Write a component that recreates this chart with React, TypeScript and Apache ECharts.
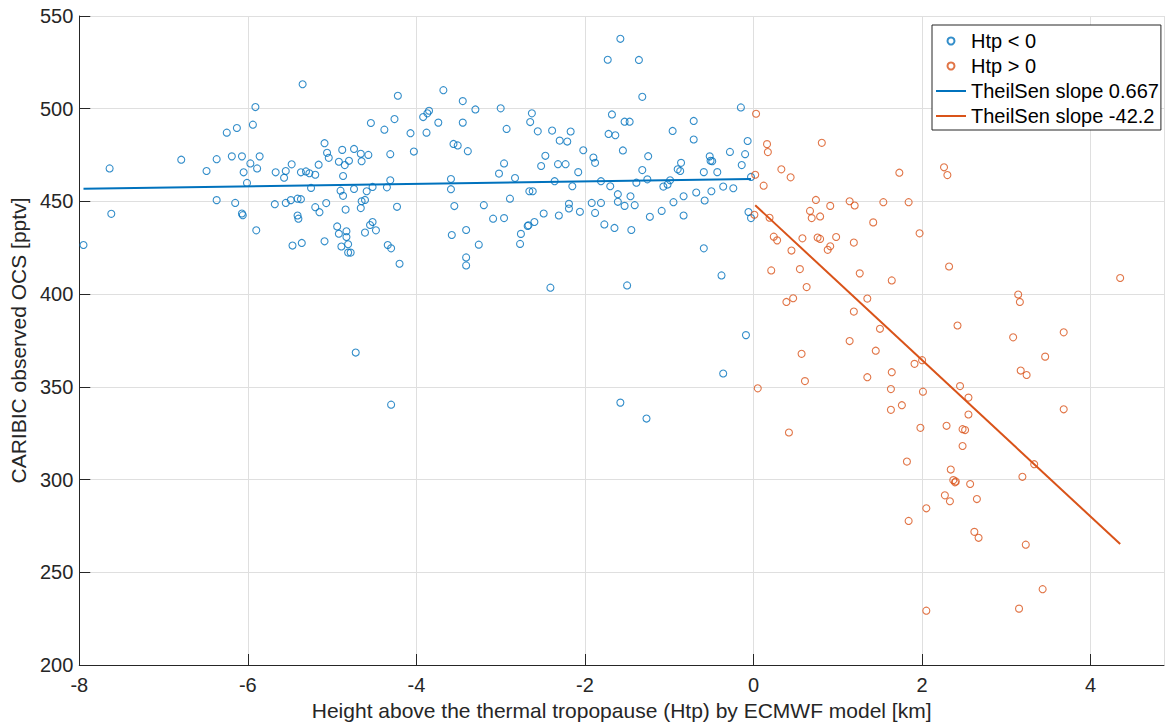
import React, { useEffect, useRef } from "react";
import * as echarts from "echarts";

const xTicks = [-8, -6, -4, -2, 0, 2, 4];
const yTicks = [200, 250, 300, 350, 400, 450, 500, 550];

const seriesNames = ["Htp < 0", "Htp > 0", "TheilSen slope 0.667", "TheilSen slope -42.2"];

const belowTropopause: [number, number][] = [
  [-7.95, 426.5], [-7.64, 467.8], [-7.62, 443.3], [-6.79, 472.5], [-6.49, 466.4], [-6.37, 472.8], [-6.37, 450.7],
  [-6.25, 487.1], [-6.19, 474.3], [-6.15, 449.2], [-6.13, 489.6], [-6.07, 474.3], [-6.07, 443.5], [-6.06, 442.6],
  [-6.05, 465.7], [-6.01, 460.0], [-5.97, 470.5], [-5.94, 491.4], [-5.91, 500.9], [-5.90, 434.4], [-5.89, 467.8],
  [-5.86, 474.3], [-5.68, 448.5], [-5.67, 465.7], [-5.57, 462.8], [-5.55, 466.4], [-5.55, 449.2], [-5.49, 450.7],
  [-5.48, 470.0], [-5.47, 426.2], [-5.41, 451.5], [-5.41, 442.4], [-5.40, 440.7], [-5.37, 465.7], [-5.37, 451.2],
  [-5.36, 427.6], [-5.35, 513.2], [-5.31, 466.2], [-5.27, 465.2], [-5.20, 464.4], [-5.09, 428.5],
  [-5.25, 457.3], [-5.20, 446.9], [-5.16, 469.8], [-5.15, 444.2], [-5.09, 481.4], [-5.07, 449.1], [-5.06, 476.2],
  [-5.04, 473.5], [-4.94, 436.5], [-4.92, 471.4], [-4.92, 432.6], [-4.90, 455.8], [-4.89, 425.7], [-4.88, 477.8],
  [-4.87, 463.7], [-4.87, 453.0], [-4.85, 469.6], [-4.84, 445.6], [-4.83, 433.9], [-4.83, 430.8], [-4.81, 426.9],
  [-4.81, 422.4], [-4.78, 422.4], [-4.80, 471.9], [-4.74, 478.3], [-4.74, 456.7], [-4.72, 368.5], [-4.66, 475.7],
  [-4.66, 446.4], [-4.65, 471.7], [-4.65, 450.1], [-4.61, 450.8], [-4.61, 433.2], [-4.59, 455.5], [-4.57, 475.1],
  [-4.55, 437.3], [-4.54, 492.3], [-4.52, 457.8], [-4.52, 438.9], [-4.48, 434.4], [-4.38, 488.7], [-4.35, 457.6],
  [-4.34, 426.5], [-4.31, 475.5], [-4.31, 461.4], [-4.30, 424.7], [-4.30, 340.4], [-4.26, 494.4], [-4.23, 447.1],
  [-4.22, 507.0], [-4.20, 416.4], [-4.07, 486.8], [-4.03, 476.9], [-3.92, 495.5], [-3.88, 487.1], [-3.87, 497.5],
  [-3.85, 498.9], [-3.74, 492.5], [-3.68, 510.0], [-3.59, 462.1], [-3.59, 456.6], [-3.58, 431.9], [-3.56, 481.0],
  [-3.55, 447.5], [-3.51, 480.2], [-3.45, 504.1], [-3.45, 492.5], [-3.41, 434.6], [-3.41, 419.8], [-3.41, 415.5],
  [-3.39, 477.1], [-3.30, 499.6], [-3.26, 426.7], [-3.20, 448.0], [-3.09, 440.7], [-3.02, 465.0], [-3.00, 500.2],
  [-2.96, 470.5], [-2.96, 441.0], [-2.93, 489.1], [-2.89, 451.5], [-2.83, 462.6], [-2.77, 427.1], [-2.76, 432.5],
  [-2.67, 437.1], [-2.68, 436.8], [-2.66, 455.5], [-2.65, 492.8], [-2.63, 497.5], [-2.62, 455.5], [-2.60, 438.9],
  [-2.56, 487.8], [-2.52, 469.1], [-2.49, 443.5], [-2.47, 474.6], [-2.41, 403.5], [-2.39, 488.2], [-2.36, 460.9],
  [-2.32, 470.1], [-2.31, 442.4], [-2.30, 482.8], [-2.23, 470.1], [-2.21, 482.3], [-2.19, 448.7], [-2.19, 446.2],
  [-2.17, 487.7], [-2.15, 458.2], [-2.08, 465.8], [-2.06, 444.4], [-2.02, 477.6], [-1.92, 449.2], [-1.90, 473.7],
  [-1.88, 470.8], [-1.88, 443.8], [-1.81, 460.9], [-1.81, 449.2], [-1.77, 437.6], [-1.73, 526.4], [-1.72, 486.4],
  [-1.70, 458.2], [-1.68, 496.9], [-1.65, 435.7], [-1.64, 485.7], [-1.61, 453.9], [-1.61, 449.8], [-1.58, 537.7],
  [-1.58, 341.5], [-1.55, 477.5], [-1.53, 493.0], [-1.53, 447.6], [-1.50, 404.7], [-1.47, 493.0], [-1.46, 452.8],
  [-1.45, 434.6], [-1.41, 448.0], [-1.39, 460.1], [-1.36, 526.3], [-1.32, 506.4], [-1.32, 466.9], [-1.27, 332.9],
  [-1.26, 461.9], [-1.25, 474.4], [-1.23, 441.7], [-1.09, 444.9], [-1.07, 458.0], [-1.02, 459.1], [-0.99, 461.4],
  [-0.96, 488.0], [-0.95, 449.6], [-0.90, 467.3], [-0.87, 466.4], [-0.86, 470.8], [-0.83, 452.8], [-0.83, 442.4],
  [-0.71, 493.4], [-0.71, 483.4], [-0.68, 454.8], [-0.59, 465.8], [-0.59, 424.7], [-0.58, 450.5], [-0.52, 474.3],
  [-0.51, 471.9], [-0.50, 455.5], [-0.49, 471.7], [-0.43, 465.8], [-0.38, 410.1], [-0.36, 458.0], [-0.36, 357.2],
  [-0.28, 476.7], [-0.24, 457.1], [-0.15, 500.7], [-0.14, 469.6], [-0.10, 475.5], [-0.09, 377.9], [-0.07, 482.6],
  [-0.06, 444.3], [-0.03, 463.2], [-0.03, 441.0],
];

const aboveTropopause: [number, number][] = [
  [0.03, 497.3], [0.16, 480.9], [0.17, 476.6], [0.81, 481.6], [0.33, 467.3], [0.44, 463.0], [0.02, 464.4],
  [0.12, 458.5], [1.73, 465.5], [2.26, 468.4], [2.30, 464.2], [0.74, 450.8], [0.67, 444.9], [0.69, 441.0],
  [0.79, 441.9], [0.91, 447.6], [1.14, 450.1], [1.20, 447.8], [1.54, 449.6], [1.84, 449.6], [0.01, 442.8],
  [0.19, 441.2], [1.42, 438.7], [1.97, 432.8], [0.24, 431.0], [0.28, 429.0], [0.58, 430.1], [0.76, 430.5],
  [0.79, 429.8], [0.98, 430.8], [0.91, 425.8], [0.88, 423.9], [1.19, 427.8], [0.45, 423.5], [0.21, 412.8],
  [0.55, 413.5], [1.26, 411.2], [1.64, 407.4], [2.32, 414.9], [0.63, 403.8], [0.39, 395.8], [0.47, 397.8],
  [1.35, 397.6], [1.19, 390.6], [1.50, 381.3], [1.14, 374.7], [1.45, 369.5], [0.57, 367.8], [0.61, 353.1],
  [0.05, 349.2], [1.35, 355.2], [1.64, 357.9], [1.91, 362.4], [2.00, 364.4], [1.63, 348.8], [2.01, 347.4],
  [1.76, 340.1], [1.63, 337.6], [1.98, 327.9], [2.29, 329.0], [0.42, 325.4], [1.82, 309.7], [2.34, 305.4],
  [2.27, 291.5], [2.33, 288.3], [2.05, 284.5], [1.84, 277.7], [2.05, 229.3], [4.35, 408.7], [3.14, 399.8],
  [3.16, 395.8], [2.42, 383.1], [3.08, 376.7], [3.68, 379.4], [3.46, 366.3], [3.17, 358.8], [3.24, 356.4],
  [2.45, 350.4], [2.55, 344.2], [2.55, 335.1], [3.68, 337.9], [2.48, 327.2], [2.51, 326.7], [2.48, 318.1],
  [3.33, 308.3], [2.37, 299.7], [2.40, 299.0], [2.39, 298.5], [2.57, 297.6], [3.19, 301.5], [2.65, 289.5],
  [2.62, 271.8], [2.67, 268.6], [3.23, 264.9], [3.43, 240.9], [3.15, 230.4],
];

// Theil–Sen fits: [slope, intercept], x extent
const blueFit = [0.667, 462.1];
const blueFitX = [-7.95, -0.03];
const orangeFit = [-42.2, 448.8];
const orangeFitX = [0.02, 4.35];

const BLUE = "#0072BD";
const ORANGE = "#D95319";
const FONT = "Liberation Sans";

export default function App() {
  const ref = useRef<HTMLDivElement>(null);
  useEffect(() => {
    document.body.style.margin = "0";
    const chart = echarts.init(ref.current!, null, { renderer: "svg" });
    const fitLine = (fit: number[], xs: number[]) => xs.map((x) => [x, fit[1] + fit[0] * x]);
    const axisCommon = {
      axisLine: { show: true, onZero: false, lineStyle: { color: "#262626", width: 1 } },
      axisTick: { show: true, inside: true, length: 11, lineStyle: { color: "#262626" } },
      splitLine: { show: true, lineStyle: { color: "#dfdfdf", width: 1 } },
      nameTextStyle: { fontFamily: FONT, fontSize: 21, color: "#262626" },
    };
    chart.setOption({
      animation: false,
      backgroundColor: "#ffffff",
      grid: { left: 74, right: 2, top: 16, bottom: 57, containLabel: false },
      xAxis: {
        type: "value",
        min: xTicks[0],
        max: 4.87,
        interval: 2,
        name: "Height above the thermal tropopause (Htp) by ECMWF model [km]",
        nameLocation: "middle",
        nameGap: 35,
        ...axisCommon,
        axisLabel: {
          fontFamily: FONT,
          fontSize: 20,
          color: "#262626",
          margin: 10,
          showMaxLabel: false,
          formatter: (v: number) => (xTicks.includes(v) ? String(v) : ""),
        },
      },
      yAxis: {
        type: "value",
        min: yTicks[0],
        max: yTicks[yTicks.length - 1],
        interval: 50,
        name: "CARIBIC observed OCS [pptv]",
        nameLocation: "middle",
        nameGap: 46,
        ...axisCommon,
        axisLabel: { fontFamily: FONT, fontSize: 20, color: "#262626", margin: 6 },
      },
      legend: {
        orient: "vertical",
        left: 932,
        top: 25,
        padding: [6, 2, 4, 3],
        itemGap: 5,
        itemWidth: 30,
        itemHeight: 7,
        borderColor: "#262626",
        borderWidth: 1,
        backgroundColor: "#ffffff",
        textStyle: { fontFamily: FONT, fontSize: 20, color: "#000000" },
        data: [
          { name: seriesNames[0] },
          { name: seriesNames[1] },
          { name: seriesNames[2], itemStyle: { opacity: 0 } },
          { name: seriesNames[3], itemStyle: { opacity: 0 } },
        ],
      },
      series: [
        {
          name: seriesNames[0],
          type: "scatter",
          symbol: "circle",
          symbolSize: 7,
          data: belowTropopause,
          itemStyle: { color: "rgba(0,0,0,0)", borderColor: BLUE, borderWidth: 1.1 },
          z: 2,
        },
        {
          name: seriesNames[1],
          type: "scatter",
          symbol: "circle",
          symbolSize: 7,
          data: aboveTropopause,
          itemStyle: { color: "rgba(0,0,0,0)", borderColor: ORANGE, borderWidth: 1.1 },
          z: 2,
        },
        {
          name: seriesNames[2],
          type: "line",
          symbol: "none",
          showSymbol: false,
          data: fitLine(blueFit, blueFitX),
          lineStyle: { color: BLUE, width: 2 },
          itemStyle: { color: BLUE },
          z: 3,
        },
        {
          name: seriesNames[3],
          type: "line",
          symbol: "none",
          showSymbol: false,
          data: fitLine(orangeFit, orangeFitX),
          lineStyle: { color: ORANGE, width: 2 },
          itemStyle: { color: ORANGE },
          z: 3,
        },
      ],
    });
    return () => chart.dispose();
  }, []);
  return <div ref={ref} style={{ width: 1166, height: 726 }} />;
}
